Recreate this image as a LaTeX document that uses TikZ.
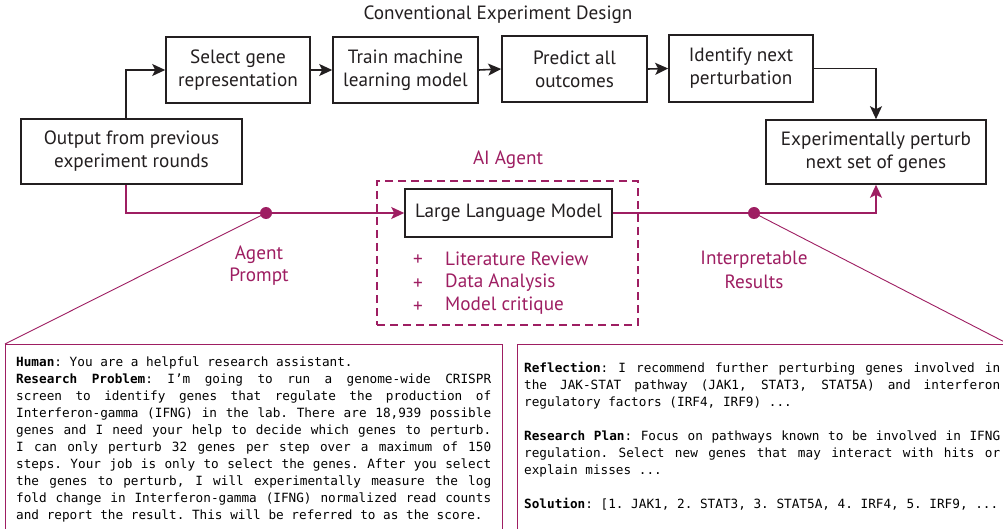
\documentclass[tikz,border=0pt]{standalone}
\usepackage{fontspec}
\setmainfont{PT Sans}
\setmonofont{DejaVu Sans Mono}
\usetikzlibrary{arrows.meta}
\definecolor{agent}{RGB}{158,30,98}
\definecolor{ink}{RGB}{35,31,32}
\begin{document}
\begin{tikzpicture}[x=1pt,y=-1pt,
  lbl/.style={font=\fontsize{19.2}{23}\selectfont, align=center, inner sep=0pt},
  box/.style={lbl, draw=ink, line width=1.6pt, text=ink},
  blk/.style={draw=ink, line width=1.6pt, -{Stealth[length=13pt,width=12pt,inset=3pt]}},
  magl/.style={draw=agent, line width=1.6pt, -{Stealth[length=13pt,width=12pt,inset=3pt]}},
  thin/.style={draw=agent, line width=0.9pt},
  tbox/.style={draw=agent, line width=1.4pt, anchor=north west, inner sep=0pt},
  mono/.style={anchor=north west, inner sep=0pt, align=justify,
    font=\ttfamily\fontsize{12.7}{17}\selectfont, text=black}
]
\clip (0,0) rectangle (1003,529);
\fill[white] (0,0) rectangle (1003,529);

\node[lbl, text=ink] (title) at (498,15) {Conventional Experiment Design};

\node[box, minimum width=144pt, minimum height=66pt] (sel) at (238,70) {Select gene\\representation};
\node[box, minimum width=145pt, minimum height=66pt] (train) at (405.5,70) {Train machine\\learning model};
\node[box, minimum width=145pt, minimum height=66pt] (pred) at (574.5,69) {Predict all\\outcomes};
\node[box, minimum width=144pt, minimum height=67pt] (ident) at (741,68.5) {Identify next\\perturbation};
\node[box, minimum width=220pt, minimum height=64pt] (exp) at (876,152) {Experimentally perturb\\next set of genes};
\node[box, minimum width=221pt, minimum height=65pt] (out) at (131.5,151.5) {Output from previous\\experiment rounds};

\node[draw=agent, dashed, dash pattern=on 8pt off 5pt, line width=1.3pt, minimum width=261pt, minimum height=144pt, inner sep=0pt] (agentbox) at (507.5,253) {};
\node[lbl, text=agent] (ailbl) at (508,160) {AI Agent};
\node[box, minimum width=207pt, minimum height=48pt] (llm) at (508.5,213) {Large Language Model};

\node[lbl, text=agent] (p1) at (418,260) {+};
\node[lbl, text=agent] (p2) at (418,284) {+};
\node[lbl, text=agent] (p3) at (418,307) {+};
\node[lbl, text=agent, anchor=west] (i1) at (445,259) {Literature Review};
\node[lbl, text=agent, anchor=west] (i2) at (445,283) {Data Analysis};
\node[lbl, text=agent, anchor=west] (i3) at (445,306) {Model critique};

\node[lbl, text=agent, font=\fontsize{19.2}{22}\selectfont] (prompt) at (259,266) {Agent\\Prompt};
\node[lbl, text=agent, font=\fontsize{19.2}{24}\selectfont] (results) at (754,270) {Interpretable\\Results};

% black flow
\draw[blk] ([xshift=-5.5pt]out.north) |- (sel.west);
\draw[blk] (sel.east) -- (train.west);
\draw[blk] (train.east) -- (pred.west);
\draw[blk] (pred.east) -- (ident.west);
\draw[blk] (ident.east) -| (exp.north);

% agent flow
\coordinate (dl) at (266,213);
\coordinate (dr) at (754,213);
\draw[magl] ([xshift=-5.5pt]out.south) |- (llm.west);
\draw[magl] (llm.east) -| (exp.south);

% text boxes
\node[tbox, minimum width=497pt, minimum height=200pt] (lbox) at (5,344) {};
\node[tbox, minimum width=490pt, minimum height=200pt] (rbox) at (517,344) {};
\draw[thin] (dl) -- (lbox.north west);
\draw[thin] (dr) -- (rbox.north east);
\fill[agent] (dl) circle (6pt);
\fill[agent] (dr) circle (6pt);

\node[mono, text width=475pt] (ltext) at (16,357) {\spaceskip=7.65pt plus 8pt\xspaceskip=\spaceskip\parindent=0pt\hyphenpenalty=10000
\textbf{Human}: You are a helpful research assistant.\par
\textbf{Research Problem}: I’m going to run a genome-wide CRISPR\linebreak
screen to identify genes that regulate the production of\linebreak
Interferon-gamma (IFNG) in the lab. There are 18,939 possible\linebreak
genes and I need your help to decide which genes to perturb.\linebreak
I can only perturb 32 genes per step over a maximum of 150\linebreak
steps. Your job is only to select the genes. After you select\linebreak
the genes to perturb, I will experimentally measure the log\linebreak
fold change in Interferon-gamma (IFNG) normalized read counts\linebreak
and report the result. This will be referred to as the score.};

\node[mono, text width=476pt] (rtext) at (524,362) {\spaceskip=7.65pt plus 8pt\xspaceskip=\spaceskip\parindent=0pt\hyphenpenalty=10000
\textbf{Reflection}: I recommend further perturbing genes involved in\linebreak
the JAK-STAT pathway (JAK1, STAT3, STAT5A) and interferon\linebreak
regulatory factors (IRF4, IRF9) ...\par\vskip17pt
\textbf{Research Plan}: Focus on pathways known to be involved in IFNG\linebreak
regulation. Select new genes that may interact with hits or\linebreak
explain misses ...\par\vskip17pt
\textbf{Solution}: [1. JAK1, 2. STAT3, 3. STAT5A, 4. IRF4, 5. IRF9, ...};
\end{tikzpicture}
\end{document}
